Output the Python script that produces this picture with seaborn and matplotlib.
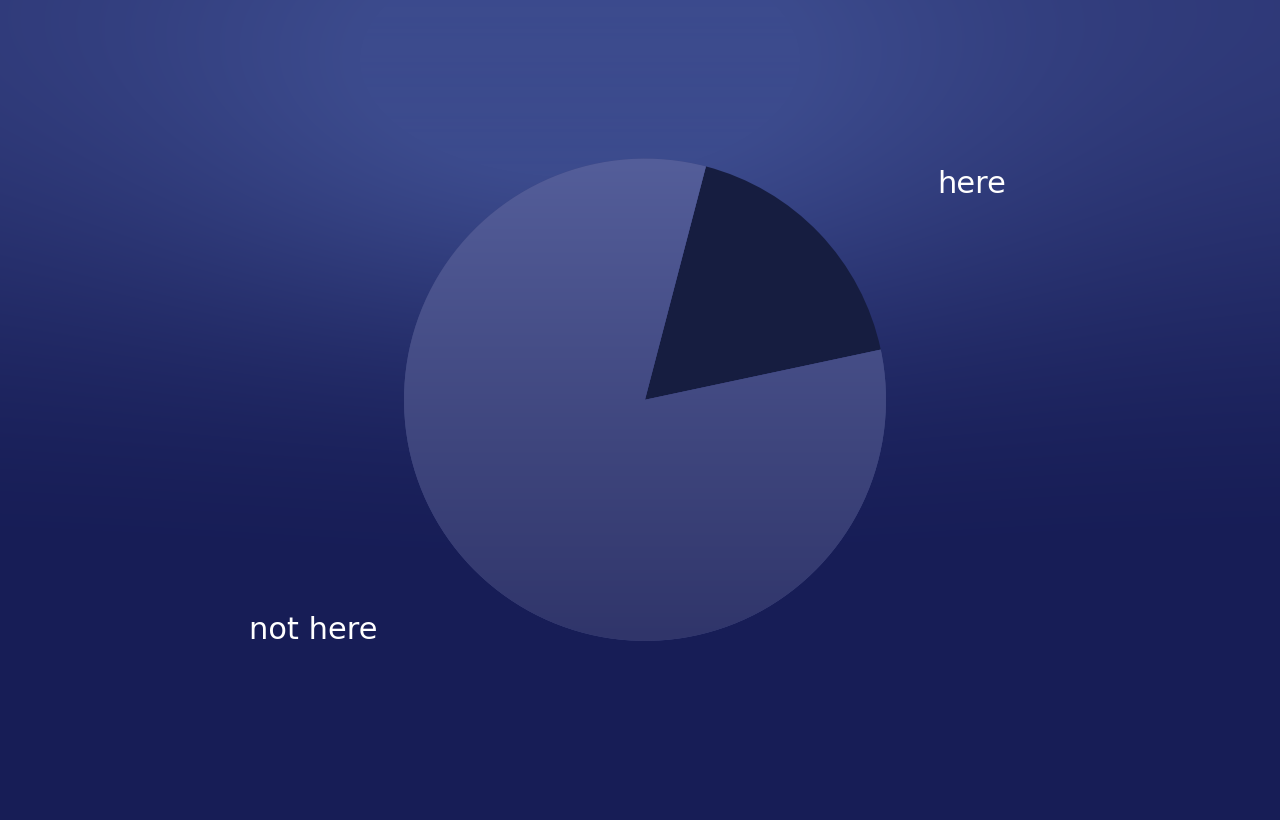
import numpy as np
import matplotlib
matplotlib.use("Agg")
import matplotlib.pyplot as plt
import seaborn as sns
from matplotlib.colors import to_rgb

# data
labels = ["here", "not here"]
values = [17.6, 82.4]

sns.set_theme(style="white")
plt.rcParams['font.family'] = ['DejaVu Sans']

W, H = 1280, 820
fig = plt.figure(figsize=(12.8, 8.205), dpi=100)

# background gradient: vertical base + soft highlight near top centre
bg = fig.add_axes([0, 0, 1, 1])
bg.set_axis_off()
yy, xx = np.mgrid[0:H, 0:W].astype(float)
v = np.clip(1 - yy / 580.0, 0, 1)
v = v * v * (3 - 2 * v)
dark = np.array(to_rgb("#171d56"))
mid = np.array(to_rgb("#2e3877"))
light = np.array(to_rgb("#3c4b8d"))
img = dark * (1 - v[..., None]) + mid * v[..., None]
h = np.exp(-((xx - 580) / 430.0) ** 2 - ((yy - 60) / 230.0) ** 2)
h = np.clip(h * 1.3, 0, 1)
img = img * (1 - h[..., None]) + light * h[..., None]
bg.imshow(img, extent=[0, W, 0, H], origin="upper", aspect="auto")
bg.set_xlim(0, W)
bg.set_ylim(0, H)

# pie
ax = fig.add_axes([0, 0, 1, 1])
ax.set_axis_off()
ax.patch.set_alpha(0)
cx, cy, r = 645, H - 400, 241
wedges, _ = ax.pie(values, colors=["#161d40", "#3d4580"], startangle=12,
                   counterclock=True, center=(cx, cy), radius=r,
                   wedgeprops=dict(linewidth=0))
ax.set_xlim(0, W)
ax.set_ylim(0, H)
ax.set_aspect("auto")

# gradient fill for the "not here" wedge
top = np.array(to_rgb("#545e9a"))
bot = np.array(to_rgb("#30356a"))
gy = np.linspace(0, 1, 256)[:, None]
gimg = top[None, None, :] * (1 - gy[..., None]) + bot[None, None, :] * gy[..., None]
gimg = np.repeat(gimg, 2, axis=1)
im = ax.imshow(gimg, extent=[cx - r, cx + r, cy - r, cy + r], origin="upper",
               aspect="auto", zorder=wedges[1].get_zorder() + 0.1)
im.set_clip_path(wedges[1])
ax.set_xlim(0, W)
ax.set_ylim(0, H)

ax.text(972, H - 184, labels[0], color="white", fontsize=22,
        ha="center", va="center")
ax.text(313, H - 630, labels[1], color="white", fontsize=22,
        ha="center", va="center")

fig.savefig("out.png", dpi=100)
